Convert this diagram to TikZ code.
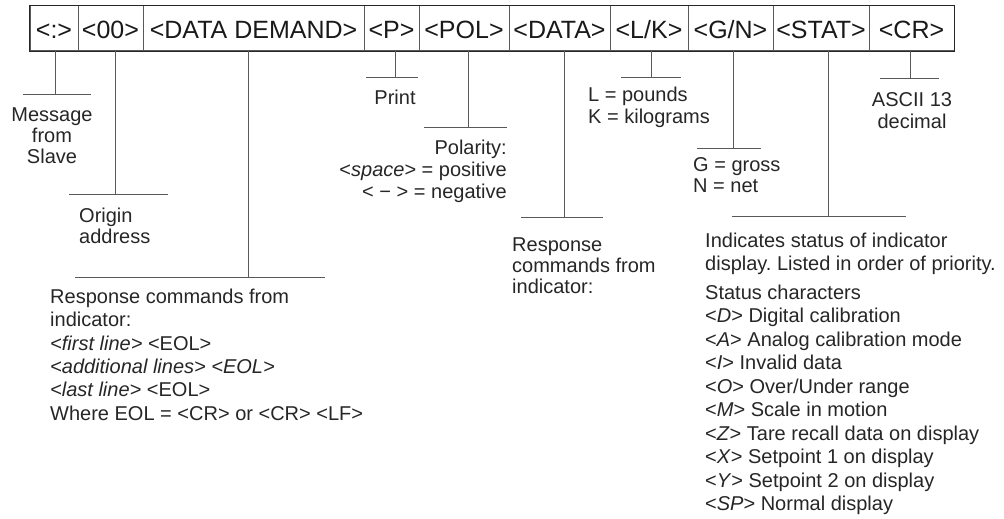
\documentclass[tikz,border=0pt]{standalone}
\usepackage{fontspec}
\setmainfont{Liberation Sans}
\frenchspacing
\tikzset{
  cell/.style={draw=black!65, line width=1pt, minimum height=45pt, inner sep=0pt,
    text height=21pt, text depth=0pt, font=\fontsize{25}{28}\selectfont, text=black!90},
  frame/.style={draw=black!85, line width=1.2pt},
  lead/.style={draw=black!65, line width=1pt},
  lbl/.style={inner sep=0pt, text=black!85, font=\fontsize{20}{21}\selectfont},
}
\begin{document}
\begin{tikzpicture}[x=1pt, y=-1pt]
\useasboundingbox (0,0) rectangle (1004,519);
% header cells
\node[cell, minimum width=48pt]  (c1)  at (54,28.5)    {<:>};
\node[cell, minimum width=65pt]  (c2)  at (110.5,28.5) {<00>};
\node[cell, minimum width=221pt] (c3)  at (253.5,28.5) {<DATA DEMAND>};
\node[cell, minimum width=55pt]  (c4)  at (391.5,28.5) {<P>};
\node[cell, minimum width=90pt]  (c5)  at (464,28.5)   {<POL>};
\node[cell, minimum width=101pt] (c6)  at (559.5,28.5) {<DATA>};
\node[cell, minimum width=78pt]  (c7)  at (649,28.5)   {<L/K>};
\node[cell, minimum width=85pt]  (c8)  at (730.5,28.5) {<G/N>};
\node[cell, minimum width=96pt]  (c9)  at (821,28.5)   {<STAT>};
\node[cell, minimum width=85pt]  (c10) at (911.5,28.5) {<CR>};
\draw[frame] (c1.north west) rectangle (c10.south east);
% bar midpoints
\coordinate (b1)  at (55,94);
\coordinate (b2)  at (115,194);
\coordinate (b3)  at (248,277);
\coordinate (b4)  at (395,78);
\coordinate (b5)  at (468,127);
\coordinate (b6)  at (564,217);
\coordinate (b7)  at (651,77.5);
\coordinate (b8)  at (733,148);
\coordinate (b9)  at (828,216.5);
\coordinate (b10) at (910,78.5);
% stems
\draw[lead] (c1.south -| b1) -- (b1);
\draw[lead] (c2.south -| b2) -- (b2);
\draw[lead] (c3.south -| b3) -- (b3);
\draw[lead] (c4.south -| b4) -- (b4);
\draw[lead] (c5.south -| b5) -- (b5);
\draw[lead] (c6.south -| b6) -- (b6);
\draw[lead] (c7.south -| b7) -- (b7);
\draw[lead] (c8.south -| b8) -- (b8);
\draw[lead] (c9.south -| b9) -- (b9);
\draw[lead] (c10.south -| b10) -- (b10);
% bars
\draw[lead] ([xshift=-32pt]b1) -- ([xshift=36pt]b1);
\draw[lead] ([xshift=-46pt]b2) -- ([xshift=53pt]b2);
\draw[lead] ([xshift=-173pt]b3) -- ([xshift=77pt]b3);
\draw[lead] ([xshift=-29pt]b4) -- ([xshift=23pt]b4);
\draw[lead] ([xshift=-44pt]b5) -- ([xshift=39pt]b5);
\draw[lead] ([xshift=-43pt]b6) -- ([xshift=39pt]b6);
\draw[lead] ([xshift=-30pt]b7) -- ([xshift=30pt]b7);
\draw[lead] ([xshift=-36pt]b8) -- ([xshift=28pt]b8);
\draw[lead] ([xshift=-96pt]b9) -- ([xshift=78pt]b9);
\draw[lead] ([xshift=-30pt]b10) -- ([xshift=29pt]b10);
% labels
\node[lbl, anchor=north, align=center] (m1) at (52,107.7) {Message\\from\\Slave};
\node[lbl, anchor=north west, align=left] (m2) at (79,207.7) {Origin\\address};
\node[lbl, anchor=north west, align=left, font=\fontsize{20}{23.4}\selectfont] (m3) at (50,288.7)
  {Response commands from\\indicator:\\\textit{<first line>} <EOL>\\\textit{<additional lines> <EOL>}\\\textit{<last line>} <EOL>\\Where EOL = <CR> or <CR> <LF>};
\node[lbl, anchor=base] (m4) at (395,104) {Print};
\node[lbl, anchor=north east, align=right, font=\fontsize{20}{22}\selectfont] (m5) at (507,139.7)
  {Polarity:\\<\textit{space}> = positive\\< − > = negative};
\node[lbl, anchor=north west, align=left, font=\fontsize{20}{21}\selectfont] (m6) at (512,237.7)
  {Response\\commands from\\indicator:};
\node[lbl, anchor=north west, align=left, font=\fontsize{20}{22}\selectfont] (m7) at (588,86.7)
  {L = pounds\\K = kilograms};
\node[lbl, anchor=north west, align=left] (m8) at (693,157.7) {G = gross\\N = net};
\node[lbl, anchor=north west, align=left, font=\fontsize{20}{23.5}\selectfont] (m9) at (705,232.7)
  {Indicates status of indicator\\display. Listed in order of priority.\\[5pt]Status characters\\
   <\textit{D}> Digital calibration\\<\textit{A}> Analog calibration mode\\<\textit{I}> Invalid data\\
   <\textit{O}> Over/Under range\\<\textit{M}> Scale in motion\\<\textit{Z}> Tare recall data on display\\
   <\textit{X}> Setpoint 1 on display\\<\textit{Y}> Setpoint 2 on display\\<\textit{SP}> Normal display};
\node[lbl, anchor=north, align=center, font=\fontsize{20}{22}\selectfont] (m10) at (912,92.7) {ASCII 13\\decimal};
\end{tikzpicture}
\end{document}
